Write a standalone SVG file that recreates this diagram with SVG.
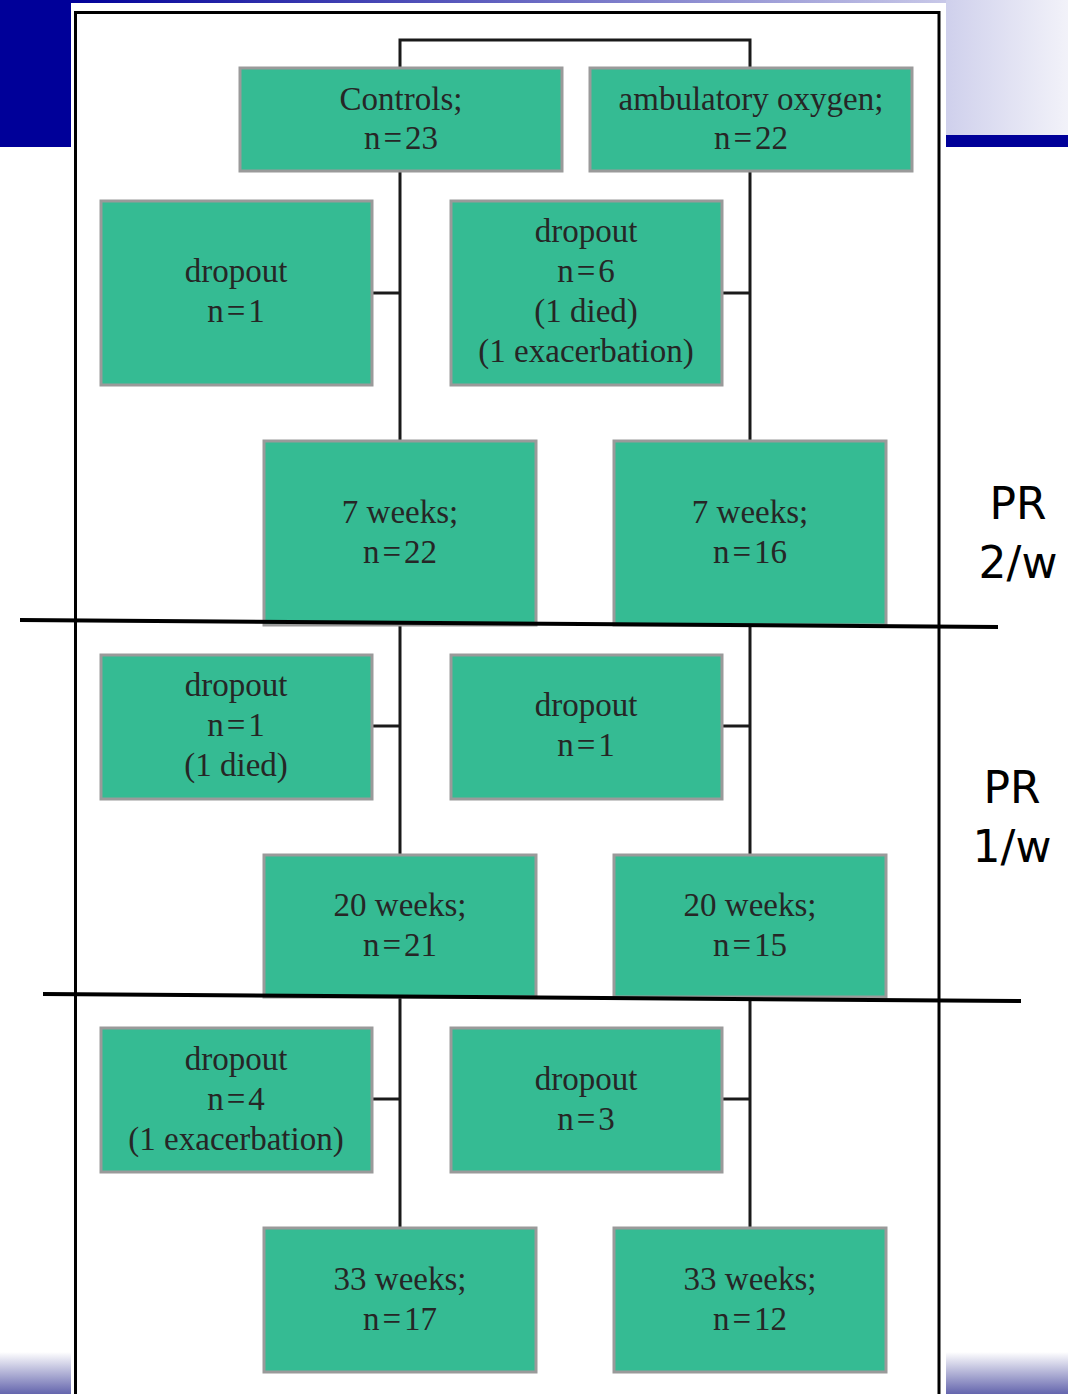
<svg xmlns="http://www.w3.org/2000/svg" width="1068" height="1394" viewBox="0 0 1068 1394">
<style>
.node rect{fill:#35BB93;stroke:#9a9a9a;stroke-width:3}
.node text{font-family:"Liberation Serif","Times New Roman",serif;font-size:33px;fill:#262626;text-anchor:middle}
.conn{stroke:#1a1a1a;stroke-width:3;fill:none}
.div{stroke:#000;stroke-width:4}
.lbl{font-family:"DejaVu Sans",Verdana,sans-serif;font-size:44px;fill:#000;text-anchor:middle}
</style>
<defs>
<linearGradient id="topg" x1="0" y1="0" x2="1" y2="0"><stop offset="0" stop-color="#000099"/><stop offset="1" stop-color="#c8c8e8"/></linearGradient>
<linearGradient id="rg" x1="0" y1="0" x2="1" y2="0"><stop offset="0" stop-color="#cfd0ec"/><stop offset="1" stop-color="#f2f2f9"/></linearGradient>
<linearGradient id="bg" x1="0" y1="0" x2="0" y2="1"><stop offset="0" stop-color="#ffffff"/><stop offset="1" stop-color="#6465ad"/></linearGradient>
</defs>
<rect x="0" y="0" width="1068" height="1394" fill="#fff"/>
<rect x="0" y="0" width="71" height="147" fill="#000099"/>
<rect x="71" y="0" width="875" height="3" fill="url(#topg)"/>
<rect x="946" y="0" width="122" height="135" fill="url(#rg)"/>
<rect x="946" y="135" width="122" height="12" fill="#000099"/>
<rect x="0" y="1352" width="71" height="42" fill="url(#bg)"/>
<rect x="946" y="1352" width="122" height="42" fill="url(#bg)"/>
<path d="M75.5 1394 V12.5 H939 V1394" fill="none" stroke="#000" stroke-width="3"/>
<g id="connectors">
<path class="conn" d="M400 68 V40 H750 V68"/>
<path class="conn" d="M400 171 V1228"/>
<path class="conn" d="M750 171 V1228"/>
<path class="conn" d="M372 293 H400"/>
<path class="conn" d="M722 293 H750"/>
<path class="conn" d="M372 726 H400"/>
<path class="conn" d="M722 726 H750"/>
<path class="conn" d="M372 1099 H400"/>
<path class="conn" d="M722 1099 H750"/>
</g>
<g id="controls" class="node"><rect x="240" y="68" width="322" height="103"/><text x="401" y="110">Controls;</text><text x="401" y="149">n<tspan dx="3">=</tspan><tspan dx="3">23</tspan></text></g>
<g id="ambulatory" class="node"><rect x="590" y="68" width="322" height="103"/><text x="751" y="110">ambulatory oxygen;</text><text x="751" y="149">n<tspan dx="3">=</tspan><tspan dx="3">22</tspan></text></g>
<g id="dropout-c1" class="node"><rect x="101" y="201" width="271" height="184"/><text x="236" y="282">dropout</text><text x="236" y="322">n<tspan dx="3">=</tspan><tspan dx="3">1</tspan></text></g>
<g id="dropout-a1" class="node"><rect x="451" y="201" width="271" height="184"/><text x="586" y="242">dropout</text><text x="586" y="282">n<tspan dx="3">=</tspan><tspan dx="3">6</tspan></text><text x="586" y="322">(1 died)</text><text x="586" y="362">(1 exacerbation)</text></g>
<g id="c7" class="node"><rect x="264" y="441" width="272" height="184"/><text x="400" y="523">7 weeks;</text><text x="400" y="563">n<tspan dx="3">=</tspan><tspan dx="3">22</tspan></text></g>
<g id="a7" class="node"><rect x="614" y="441" width="272" height="184"/><text x="750" y="523">7 weeks;</text><text x="750" y="563">n<tspan dx="3">=</tspan><tspan dx="3">16</tspan></text></g>
<g id="dropout-c2" class="node"><rect x="101" y="655" width="271" height="144"/><text x="236" y="696">dropout</text><text x="236" y="736">n<tspan dx="3">=</tspan><tspan dx="3">1</tspan></text><text x="236" y="776">(1 died)</text></g>
<g id="dropout-a2" class="node"><rect x="451" y="655" width="271" height="144"/><text x="586" y="716">dropout</text><text x="586" y="756">n<tspan dx="3">=</tspan><tspan dx="3">1</tspan></text></g>
<g id="c20" class="node"><rect x="264" y="855" width="272" height="142"/><text x="400" y="916">20 weeks;</text><text x="400" y="956">n<tspan dx="3">=</tspan><tspan dx="3">21</tspan></text></g>
<g id="a20" class="node"><rect x="614" y="855" width="272" height="142"/><text x="750" y="916">20 weeks;</text><text x="750" y="956">n<tspan dx="3">=</tspan><tspan dx="3">15</tspan></text></g>
<g id="dropout-c3" class="node"><rect x="101" y="1028" width="271" height="144"/><text x="236" y="1070">dropout</text><text x="236" y="1110">n<tspan dx="3">=</tspan><tspan dx="3">4</tspan></text><text x="236" y="1150">(1 exacerbation)</text></g>
<g id="dropout-a3" class="node"><rect x="451" y="1028" width="271" height="144"/><text x="586" y="1090">dropout</text><text x="586" y="1130">n<tspan dx="3">=</tspan><tspan dx="3">3</tspan></text></g>
<g id="c33" class="node"><rect x="264" y="1228" width="272" height="144"/><text x="400" y="1290">33 weeks;</text><text x="400" y="1330">n<tspan dx="3">=</tspan><tspan dx="3">17</tspan></text></g>
<g id="a33" class="node"><rect x="614" y="1228" width="272" height="144"/><text x="750" y="1290">33 weeks;</text><text x="750" y="1330">n<tspan dx="3">=</tspan><tspan dx="3">12</tspan></text></g>
<line class="div" x1="20" y1="620" x2="998" y2="627"/>
<line class="div" x1="43" y1="994" x2="1021" y2="1001"/>
<text class="lbl" x="1018" y="519">PR</text>
<text class="lbl" x="1018" y="578">2/w</text>
<text class="lbl" x="1012" y="803">PR</text>
<text class="lbl" x="1012" y="862">1/w</text>
</svg>
